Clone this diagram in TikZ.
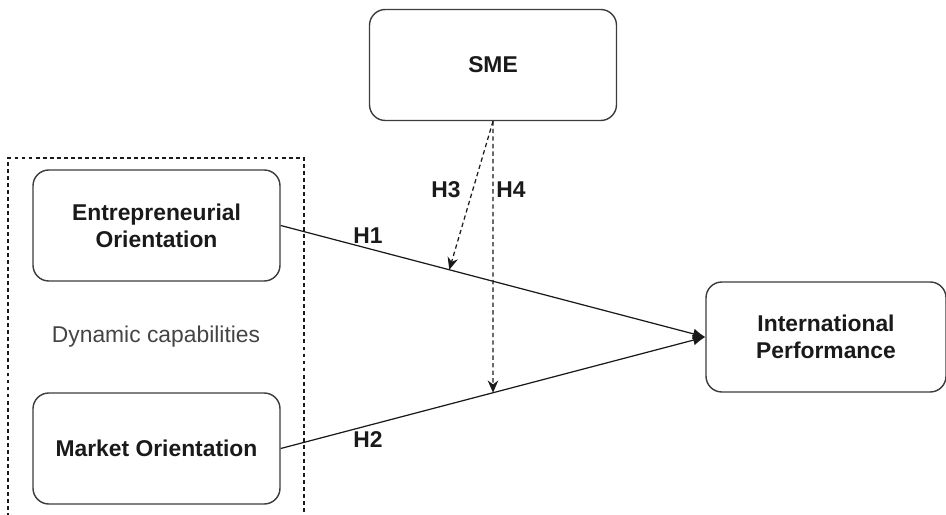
\documentclass[tikz,border=0pt]{standalone}
\usepackage{fontspec}
\setmainfont{Liberation Sans}
\usepackage{tikz}
\usetikzlibrary{arrows.meta,calc,positioning}
\definecolor{Ink}{HTML}{1A1A1A}
\definecolor{Frame}{HTML}{3C3C3C}
\definecolor{Muted}{HTML}{444444}

\begin{document}
\begin{tikzpicture}[x=1cm,y=1cm,>=Latex,
    every node/.style={font=\fontsize{13}{15.5}\selectfont},
    construct/.style={draw=Frame,line width=0.8pt,rounded corners=9pt,fill=white,
      minimum width=4.94cm,minimum height=2.22cm,align=center,font=\fontsize{13}{15.5}\selectfont\bfseries,text=Ink},
    hyp/.style={font=\fontsize{13}{15.5}\selectfont\bfseries,text=Ink},
    effect/.style={-{Latex[length=7pt,width=6pt]},Ink,line width=0.7pt},
    moderation/.style={-{Stealth[length=7pt,width=6pt]},Ink,line width=0.7pt,dash pattern=on 2.5pt off 1.8pt}]
    \useasboundingbox (0,0) rectangle (18.92,10.28);

    % dynamic capabilities frame, open at the bottom
    \draw[Ink,line width=0.7pt,dash pattern=on 2.2pt off 1.8pt] (0.16,-0.2) -- (0.16,7.12) -- (6.08,7.12) -- (6.08,-0.2);
    \node[text=Muted] (dyn) at (3.12,3.54) {Dynamic capabilities};

    \node[construct] (sme) at (9.86,8.98) {SME};
    \node[construct] (eo) at (3.13,5.77) {Entrepreneurial\\Orientation};
    \node[construct] (mo) at (3.13,1.31) {Market Orientation};
    \node[construct,minimum width=4.80cm,minimum height=2.20cm] (ip) at (16.52,3.54) {International\\Performance};

    \draw[effect] (eo.east) -- (ip.west) coordinate[pos=0.397] (h1pt);
    \draw[effect] (mo.east) -- (ip.west) coordinate[pos=0.5] (h2pt);

    \draw[moderation] (sme.south) -- (h1pt);
    \draw[moderation] (sme.south) -- (h2pt);

    \node[hyp] (h1) at (7.36,5.56) {H1};
    \node[hyp] (h2) at (7.36,1.48) {H2};
    \node[hyp] (h3) at (8.92,6.48) {H3};
    \node[hyp] (h4) at (10.22,6.48) {H4};
  \end{tikzpicture}
\end{document}
